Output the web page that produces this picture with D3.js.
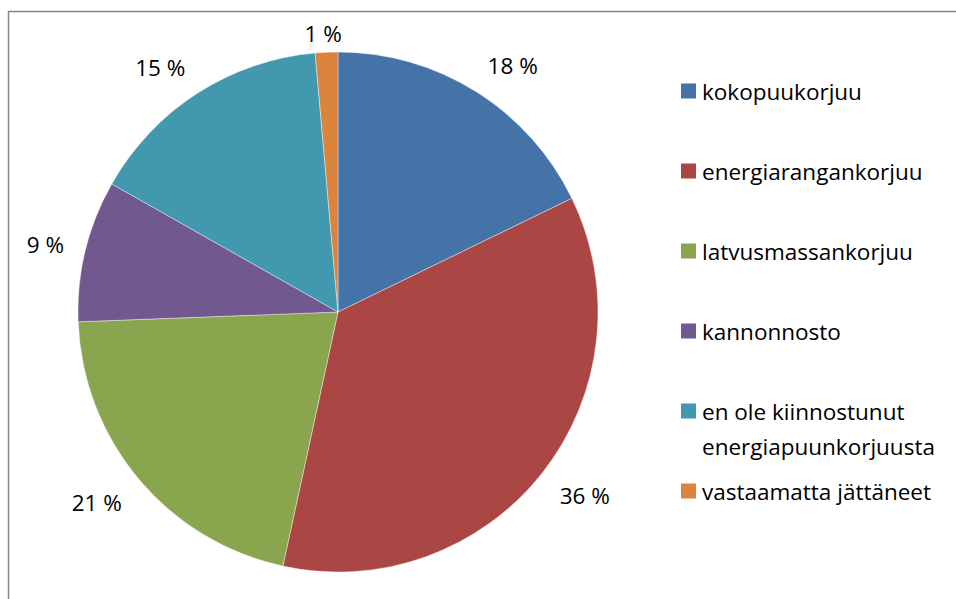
<!DOCTYPE html>
<html>
<head>
<meta charset="utf-8">
<script src="https://d3js.org/d3.v7.min.js"></script>
<style>
  body { margin: 0; background: #fff; }
  text { font-family: "Open Sans", sans-serif; fill: #000; }
</style>
</head>
<body>
<div id="visu"></div>
<script>
// Dimensions
var largeur = 956,
    hauteur = 599;

// Données
var categories = ["kokopuukorjuu", "energiarangankorjuu", "latvusmassankorjuu", "kannonnosto",
                  "en ole kiinnostunut energiapuunkorjuusta", "vastaamatta jättäneet"];
var valeurs = [17.8, 35.6, 21.0, 8.8, 15.4, 1.4];
var etiquettes = ["18 %", "36 %", "21 %", "9 %", "15 %", "1 %"];
var couleursListe = ["#4572A7", "#AA4643", "#89A54E", "#71588F", "#4198AF", "#DB843D"];
// Lignes du texte de légende
var lignesLegende = [["kokopuukorjuu"], ["energiarangankorjuu"], ["latvusmassankorjuu"], ["kannonnosto"],
                     ["en ole kiinnostunut", "energiapuunkorjuusta"], ["vastaamatta jättäneet"]];

var cx = 338, cy = 312, rayon = 260;
var taillePolice = 22.5;

var couleurs = d3.scaleOrdinal().domain(categories).range(couleursListe);

var svg = d3.select("#visu").append("svg")
    .attr("width", largeur)
    .attr("height", hauteur);

// Cadre du graphique (sort à droite et en bas)
svg.append("rect")
    .attr("x", 8.5).attr("y", 11.5)
    .attr("width", largeur + 20).attr("height", hauteur + 20)
    .attr("fill", "none")
    .attr("stroke", "#868686")
    .attr("stroke-width", 1.5);

var donnees = categories.map((c, i) => ({ genre: c, valeur: valeurs[i], etiquette: etiquettes[i] }));

var camembert = d3.pie().value(d => d.valeur).sort(null);
var arc = d3.arc().innerRadius(0).outerRadius(rayon);
var parts = camembert(donnees);

var g = svg.append("g").attr("transform", "translate(" + cx + "," + cy + ")");

g.selectAll("path")
  .data(parts)
  .enter()
  .append("path")
  .attr("d", arc)
  .attr("fill", d => couleurs(d.data.genre))
  .attr("stroke", "#fff")
  .attr("stroke-width", 0.4);

// Étiquettes à l'extérieur des parts
var ecart = 22, demiH = 11, hautMin = 33 - cy;
g.selectAll("text.etiq")
  .data(parts)
  .enter()
  .append("text")
  .attr("class", "etiq")
  .attr("font-size", taillePolice)
  .attr("text-anchor", "middle")
  .attr("dominant-baseline", "central")
  .text(d => d.data.etiquette)
  .each(function(d) {
    var a = (d.startAngle + d.endAngle) / 2;
    var demiL = this.getComputedTextLength() / 2;
    var s = Math.sin(a), c = -Math.cos(a);
    var x = (rayon + ecart) * s + Math.sign(s) * demiL * Math.min(1, 3 * Math.abs(s));
    var y = (rayon + ecart) * c + c * demiH + 2;
    y = Math.max(y, hautMin);
    d3.select(this).attr("x", x).attr("y", y);
  });

// Légende
var legX = 681, legTaille = 15;
var legY = d3.scalePoint().domain(categories).range([91, 491]);

var leg = svg.selectAll("g.leg")
  .data(categories)
  .enter()
  .append("g")
  .attr("class", "leg")
  .attr("transform", d => "translate(" + legX + "," + legY(d) + ")");

leg.append("rect")
  .attr("x", 0).attr("y", -legTaille / 2)
  .attr("width", legTaille).attr("height", legTaille)
  .attr("fill", d => couleurs(d));

leg.append("text")
  .attr("x", 21)
  .attr("font-size", taillePolice)
  .attr("dominant-baseline", "central")
  .selectAll("tspan")
  .data((d, i) => lignesLegende[i])
  .enter()
  .append("tspan")
  .attr("x", 21)
  .attr("dy", (d, i) => i === 0 ? 0 : 35)
  .text(d => d);
</script>
</body>
</html>
